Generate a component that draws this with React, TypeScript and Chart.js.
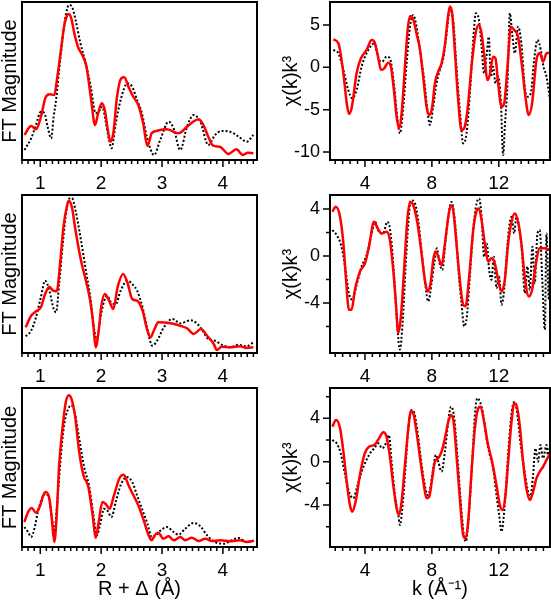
import React, { useEffect, useRef } from "react";
import { Chart, registerables } from "chart.js";

Chart.register(...registerables);
Chart.defaults.font.family = "'Liberation Sans', Arial, sans-serif";
Chart.defaults.color = "#000";

type Pt = [number, number];

// ---------- tick values ----------
const ftMajorTicks = [1, 2, 3, 4];
const ftMinorStep = 0.1;
const kMajorTicks = [4, 8, 12];
const kMinorStep = 4 / 9;
const chiTicksTop = [-10, -5, 0, 5];
const chiMinorTop: number[] = [];
const chiTicksMid = [-4, 0, 4];
const chiMinorMid = [-6, -2, 2];
const chiTicksBot = [-4, 0, 4];
const chiMinorBot = [-6, -2, 2, 6];

// ---------- FT magnitude (arbitrary units) : [R, |FT|] ----------
const ftFitTop: Pt[] = [[0.74,25],[0.85,34],[0.93,30.7],[1.01,43],[1.09,63],[1.16,65.7],[1.23,65],[1.28,83],[1.34,110],[1.39,133],[1.43,143],[1.47,146],[1.51,141.7],[1.56,126.7],[1.62,113],[1.69,105],[1.76,93],[1.83,63],[1.9,35],[1.95,46.7],[2.01,56.7],[2.06,50],[2.11,30],[2.15,18.3],[2.2,26.7],[2.26,63],[2.33,81.7],[2.38,82.7],[2.45,73],[2.53,63],[2.61,55],[2.69,36.7],[2.76,14],[2.83,26.7],[2.92,29.3],[3.08,30.7],[3.19,28.3],[3.27,26.7],[3.41,33.3],[3.49,37.3],[3.6,40.7],[3.68,35],[3.76,23.3],[3.84,14.3],[3.95,13.3],[4.09,6],[4.22,10.7],[4.33,5],[4.41,7.3],[4.5,6.7]];
const ftExpTop: Pt[] = [[0.74,10],[0.85,21.7],[0.93,35],[1.01,48.3],[1.07,46.7],[1.12,33.3],[1.18,21.7],[1.22,43.3],[1.26,60],[1.31,90],[1.37,123.3],[1.42,145],[1.47,155],[1.52,153.3],[1.58,140],[1.66,116.7],[1.74,98.3],[1.83,73.3],[1.91,46.7],[1.96,48.3],[2.02,53.3],[2.07,40],[2.13,20],[2.17,11.7],[2.24,36.7],[2.32,60],[2.43,76.7],[2.51,73.3],[2.59,60],[2.67,46.7],[2.75,23.3],[2.87,5],[2.97,20],[3.11,38.3],[3.19,31.7],[3.3,10],[3.41,33.3],[3.52,45],[3.63,38.3],[3.76,15],[3.87,25],[3.98,29],[4.12,28.3],[4.26,23.3],[4.39,18.3],[4.5,25]];

const ftFitMid: Pt[] = [[0.76,25.7],[0.85,37.3],[0.93,41.7],[1.01,45.7],[1.08,59],[1.15,66.3],[1.21,62.3],[1.27,61.7],[1.33,92.3],[1.38,125.7],[1.44,147.3],[1.47,152.3],[1.52,145.7],[1.58,122.3],[1.67,92.3],[1.75,72.3],[1.82,52.3],[1.87,29],[1.91,5.7],[1.96,22.3],[2.0,45.7],[2.06,59],[2.13,52.3],[2.2,44],[2.27,65.7],[2.36,79],[2.43,70.7],[2.51,54],[2.59,52.3],[2.68,42.3],[2.76,22.3],[2.81,15.7],[2.87,23],[2.94,30.7],[3.14,29.7],[3.3,27.3],[3.41,24.7],[3.52,19],[3.64,24],[3.74,17.3],[3.85,9],[3.9,3],[3.98,6.3],[4.12,5.7],[4.28,6.7],[4.39,5],[4.5,5.7]];
const ftExpMid: Pt[] = [[0.76,16.7],[0.85,22.3],[0.93,35.7],[1.01,55.7],[1.08,72.3],[1.15,62.3],[1.22,44],[1.26,40.7],[1.31,69],[1.37,109],[1.42,139],[1.47,154],[1.52,155],[1.58,142.3],[1.67,112.3],[1.75,82.3],[1.83,52.3],[1.88,25.7],[1.93,13],[1.98,32.3],[2.05,52.3],[2.1,57.3],[2.16,50.7],[2.24,49],[2.32,62.3],[2.43,72.3],[2.51,69],[2.59,62.3],[2.68,45.7],[2.76,24],[2.84,7.3],[2.92,12.3],[3.03,25.7],[3.17,34],[3.3,29.7],[3.47,32.7],[3.57,29.7],[3.65,24],[3.76,14],[3.87,12.3],[3.98,8.3],[4.12,5.7],[4.25,8.3],[4.39,6.7],[4.5,10.7]];

const ftFitBot: Pt[] = [[0.74,25],[0.8,35],[0.86,39],[0.93,34.3],[1.0,41.7],[1.05,51.7],[1.09,55],[1.15,48.3],[1.19,28.3],[1.23,5],[1.27,31.7],[1.31,81.7],[1.37,121.7],[1.42,145],[1.47,151.7],[1.52,146.7],[1.57,131.7],[1.64,95],[1.71,71.7],[1.79,60],[1.86,31.7],[1.91,9],[1.96,25],[2.02,45],[2.07,43.3],[2.14,38.3],[2.21,51.7],[2.31,70],[2.37,72.3],[2.45,61.7],[2.53,51.7],[2.61,41.7],[2.69,28.3],[2.78,11.7],[2.83,6.7],[2.88,11.7],[2.94,14.3],[3.02,8.3],[3.11,10.7],[3.19,6.7],[3.3,10],[3.38,6.7],[3.49,9.3],[3.6,6],[3.71,8.3],[3.82,6],[3.96,6.7],[4.12,5.7],[4.28,6.7],[4.39,5],[4.51,6.3]];
const ftExpBot: Pt[] = [[0.74,20],[0.8,15],[0.85,10],[0.91,20],[0.96,35],[1.04,50],[1.09,53.3],[1.15,46.7],[1.2,25],[1.23,15],[1.27,38.3],[1.33,85],[1.39,121.7],[1.45,136.7],[1.51,141.7],[1.57,133.3],[1.64,108.3],[1.72,80],[1.8,61.7],[1.87,33.3],[1.93,11.7],[1.98,21.7],[2.05,38.3],[2.1,36.7],[2.17,30],[2.24,45],[2.32,61.7],[2.42,70],[2.51,65],[2.59,51.7],[2.67,38.3],[2.76,23.3],[2.83,10],[2.9,11.7],[2.98,16.7],[3.08,20],[3.19,15],[3.27,12.3],[3.38,18.3],[3.52,24],[3.63,20.7],[3.74,11.7],[3.87,5],[4.01,3.3],[4.15,6.7],[4.26,9],[4.39,5],[4.5,6.3]];

// ---------- chi(k)k^3 : [k, value] ----------
const chiFitTop: Pt[] = [[2.11,3.3],[2.41,2.83],[2.71,-0.7],[2.91,-4.25],[3.04,-5.5],[3.2,-4.84],[3.5,-0.7],[3.76,1.06],[4.1,2.05],[4.4,3.23],[4.56,3.03],[4.76,1.46],[4.96,-0.3],[5.15,-0.12],[5.39,0.55],[5.55,0.08],[5.73,-2.68],[5.89,-5.83],[6.03,-7.2],[6.19,-5.43],[6.39,0.08],[6.55,4.4],[6.69,6.06],[6.89,5.6],[7.08,4.0],[7.28,2.24],[7.48,-1.1],[7.68,-4.65],[7.84,-5.63],[8.02,-4.65],[8.18,-1.89],[8.38,-0.5],[8.58,0.47],[8.78,2.64],[8.94,5.6],[9.07,7.17],[9.21,6.38],[9.37,2.05],[9.57,-3.86],[9.77,-7.4],[9.93,-7.2],[10.13,-5.04],[10.37,0.08],[10.61,4.0],[10.81,5.0],[10.97,4.0],[11.16,0.87],[11.32,-1.5],[11.46,-0.9],[11.66,1.26],[11.8,1.06],[11.96,-1.89],[12.16,-4.65],[12.32,-4.25],[12.52,0.08],[12.72,4.8],[12.92,4.4],[13.15,3.6],[13.39,0.08],[13.59,-3.46],[13.79,-5.63],[13.99,-4.25],[14.25,0.87],[14.45,1.65],[14.65,0.67],[14.85,1.65],[15.06,1.73]];
const chiExpTop: Pt[] = [[2.11,2.05],[2.41,1.65],[2.71,-0.3],[3.0,-2.68],[3.24,-3.66],[3.5,-2.68],[3.8,0.08],[4.2,2.05],[4.56,2.83],[4.8,1.06],[5.03,0.67],[5.29,1.26],[5.49,1.06],[5.73,-1.89],[5.95,-6.22],[6.09,-7.8],[6.29,-4.65],[6.49,0.47],[6.69,4.8],[6.89,6.18],[7.08,4.8],[7.28,2.05],[7.54,-1.5],[7.78,-5.83],[7.88,-6.8],[8.08,-4.65],[8.28,-1.89],[8.48,-0.3],[8.68,1.06],[8.88,4.0],[9.07,6.77],[9.27,5.6],[9.47,0.08],[9.67,-5.04],[9.87,-8.98],[10.07,-7.8],[10.27,-3.07],[10.47,3.23],[10.63,6.38],[10.81,5.6],[10.97,2.44],[11.12,-0.7],[11.26,1.26],[11.4,3.6],[11.52,-1.1],[11.66,0.08],[11.8,-1.89],[11.96,-1.1],[12.12,-3.86],[12.26,-10.35],[12.36,-7.0],[12.52,-1.89],[12.66,6.38],[12.8,4.0],[12.96,1.65],[13.15,4.8],[13.35,2.83],[13.55,-2.28],[13.71,-3.46],[13.91,-3.07],[14.11,0.87],[14.31,3.23],[14.51,2.05],[14.67,0.08],[14.85,-1.1],[15.06,-3.86]];

const chiFitMid: Pt[] = [[2.05,3.76],[2.25,4.18],[2.51,3.33],[2.71,1.07],[2.87,-2.03],[3.04,-4.58],[3.2,-4.58],[3.4,-2.88],[3.7,-1.33],[4.0,-0.62],[4.24,0.79],[4.54,2.91],[4.76,2.34],[4.99,1.92],[5.29,2.06],[5.49,1.36],[5.69,-1.19],[5.85,-4.01],[5.99,-6.55],[6.15,-5.14],[6.35,-0.9],[6.53,3.05],[6.69,4.6],[6.89,4.32],[7.14,2.77],[7.38,0.23],[7.58,-2.03],[7.74,-3.02],[7.92,-2.32],[8.08,-0.34],[8.22,0.37],[8.38,-0.06],[8.58,-0.76],[8.78,1.07],[8.98,3.33],[9.14,4.32],[9.27,3.9],[9.47,1.07],[9.67,-2.03],[9.87,-4.15],[10.01,-4.29],[10.21,-2.03],[10.47,2.2],[10.67,3.84],[10.81,4.04],[10.97,3.05],[11.16,1.07],[11.36,-0.48],[11.56,-0.2],[11.76,-0.62],[11.96,-2.03],[12.16,-3.02],[12.36,-2.03],[12.56,1.07],[12.76,2.91],[12.96,3.62],[13.15,2.91],[13.35,1.07],[13.55,-1.75],[13.79,-3.45],[13.99,-2.88],[14.19,-0.9],[14.45,0.65],[14.75,0.65],[15.06,0.5]];
const chiExpMid: Pt[] = [[2.05,2.2],[2.31,1.78],[2.57,0.93],[2.81,-0.9],[3.04,-3.16],[3.24,-3.73],[3.5,-2.46],[3.8,-0.9],[4.1,0.08],[4.4,1.92],[4.6,2.91],[4.84,2.06],[5.09,1.92],[5.33,2.91],[5.49,2.34],[5.69,-0.62],[5.89,-5.14],[6.09,-7.97],[6.25,-5.71],[6.43,-0.9],[6.59,2.77],[6.75,4.75],[6.95,4.6],[7.18,3.05],[7.42,-0.06],[7.62,-2.6],[7.78,-3.87],[7.98,-2.32],[8.14,-0.62],[8.3,0.65],[8.46,-0.62],[8.62,-1.19],[8.82,1.36],[9.01,3.62],[9.17,4.6],[9.37,3.05],[9.57,-0.9],[9.77,-4.01],[9.93,-5.99],[10.09,-5.14],[10.27,-1.75],[10.47,2.2],[10.67,4.46],[10.83,4.89],[10.97,3.33],[11.12,-0.06],[11.28,1.07],[11.42,-1.19],[11.56,-2.03],[11.7,-0.06],[11.86,-2.74],[12.02,-1.75],[12.16,-4.15],[12.32,-2.88],[12.46,-0.06],[12.62,2.49],[12.76,3.33],[12.92,1.92],[13.05,3.33],[13.21,2.49],[13.39,0.23],[13.55,-3.16],[13.71,-0.9],[13.85,-2.88],[14.01,0.79],[14.15,-2.32],[14.31,1.92],[14.45,2.2],[14.59,-1.75],[14.75,-6.27],[14.85,1.92],[14.99,-3.73],[15.06,-0.06]];

const chiFitBot: Pt[] = [[2.05,3.23],[2.27,3.85],[2.51,3.08],[2.71,0.92],[2.91,-1.85],[3.1,-4.0],[3.24,-4.62],[3.44,-3.69],[3.7,-1.23],[3.96,0.62],[4.24,1.38],[4.56,1.54],[4.84,2.15],[5.09,2.71],[5.29,2.31],[5.49,0.46],[5.69,-2.15],[5.89,-4.31],[6.03,-4.92],[6.19,-3.69],[6.39,-0.31],[6.59,3.08],[6.75,4.68],[6.89,4.46],[7.08,2.77],[7.32,0],[7.52,-2.15],[7.68,-3.38],[7.84,-3.23],[8.02,-1.54],[8.18,0],[8.38,0.31],[8.58,0.92],[8.78,2.15],[8.98,3.69],[9.14,4.31],[9.31,3.54],[9.47,0.62],[9.67,-3.38],[9.87,-6.77],[10.01,-7.08],[10.17,-5.54],[10.37,-0.92],[10.57,3.08],[10.77,4.92],[10.91,5.08],[11.12,3.69],[11.36,1.54],[11.6,0],[11.86,-2.15],[12.06,-4.0],[12.22,-4.46],[12.4,-3.08],[12.56,0],[12.76,3.69],[12.92,5.38],[13.05,5.23],[13.25,3.38],[13.45,0],[13.65,-2.46],[13.85,-3.54],[14.05,-2.77],[14.25,-1.54],[14.45,-0.92],[14.65,-0.46],[14.85,0.15],[15.06,0.77]];
const chiExpBot: Pt[] = [[2.05,2.0],[2.31,1.69],[2.55,0.77],[2.81,-1.23],[3.04,-2.77],[3.3,-3.38],[3.56,-2.15],[3.8,-0.92],[4.04,0],[4.3,0.77],[4.56,1.23],[4.8,1.69],[5.03,1.23],[5.25,1.69],[5.43,2.46],[5.59,0],[5.79,-3.08],[5.99,-4.92],[6.09,-5.85],[6.25,-4.0],[6.43,-0.31],[6.59,3.08],[6.79,4.77],[6.95,4.46],[7.14,2.77],[7.34,0.31],[7.54,-1.85],[7.74,-3.08],[7.9,-2.46],[8.08,-0.62],[8.24,0.62],[8.38,0],[8.58,-0.92],[8.78,0.92],[8.98,3.69],[9.14,5.08],[9.31,4.31],[9.51,0.92],[9.71,-3.38],[9.91,-6.77],[10.03,-7.38],[10.21,-4.92],[10.41,0],[10.57,4.31],[10.71,5.85],[10.87,5.54],[11.07,4.31],[11.26,2.15],[11.46,0.62],[11.66,-0.62],[11.86,-3.08],[12.02,-4.92],[12.16,-6.46],[12.32,-4.62],[12.5,-0.62],[12.66,2.77],[12.8,4.92],[12.96,5.54],[13.11,4.31],[13.31,1.54],[13.51,-0.62],[13.71,-2.46],[13.87,-3.38],[14.05,-1.23],[14.19,1.23],[14.35,0],[14.49,1.54],[14.65,0.31],[14.85,1.54],[14.93,0.62],[15.06,1.38]];

// ---------- panel layout ----------
type Panel = {
  left: number; top: number; w: number; h: number;
  padTop: number; padRight: number; yW: number; xH: number;
  xMin: number; xMax: number; yMin: number; yMax: number;
  xMajor: number[]; xStep: number; xAnchor: number;
  yMajor: number[]; yMinor: number[]; yLabels: boolean;
  yTitle: string; yTitlePad: number; xTitle: string;
  fit: Pt[]; exp: Pt[];
};

const L = { left: 0, w: 275, padRight: 18, yW: 22, xMin: 0.7, xMax: 4.56, xMajor: ftMajorTicks, xStep: ftMinorStep, xAnchor: 1, yMajor: [] as number[], yMinor: [] as number[], yLabels: false, yTitle: "FT Magnitude", yTitlePad: 0 };
const R = { left: 275, w: 276, padRight: 1, yW: 55, xMin: 1.91, xMax: 15.06, xMajor: kMajorTicks, xStep: kMinorStep, xAnchor: 4, yLabels: true, yTitle: "\u03c7(k)k\u00b3", yTitlePad: 6 };
const row1 = { top: 0, h: 192, padTop: 2, xH: 32 };
const row2 = { top: 192, h: 193, padTop: 3, xH: 32 };
const row3 = { top: 385, h: 215, padTop: 3, xH: 53 };

const panels: Panel[] = [
  { ...L, ...row1, yMin: 0, yMax: 158, xTitle: "", fit: ftFitTop, exp: ftExpTop },
  { ...R, ...row1, yMin: -10.94, yMax: 7.71, yMajor: chiTicksTop, yMinor: chiMinorTop, xTitle: "", fit: chiFitTop, exp: chiExpTop },
  { ...L, ...row2, yMin: 0, yMax: 158, xTitle: "", fit: ftFitMid, exp: ftExpMid },
  { ...R, ...row2, yMin: -8.26, yMax: 5.19, yMajor: chiTicksMid, yMinor: chiMinorMid, xTitle: "", fit: chiFitMid, exp: chiExpMid },
  { ...L, ...row3, yMin: 0, yMax: 159, xTitle: "R + \u0394 (\u00c5)", fit: ftFitBot, exp: ftExpBot },
  { ...R, ...row3, yMin: -7.88, yMax: 6.8, yMajor: chiTicksBot, yMinor: chiMinorBot, xTitle: "k (\u00c5\u207b\u00b9)", fit: chiFitBot, exp: chiExpBot },
];

const frameTicks = {
  id: "frameTicks",
  afterDraw(chart: any, _a: any, o: any) {
    const { ctx, chartArea: a, scales } = chart;
    const xs = scales.x, ys = scales.y;
    ctx.save();
    ctx.strokeStyle = "#000";
    ctx.lineWidth = 1.5;
    ctx.beginPath();
    const xMinor: number[] = [];
    const n0 = Math.ceil((xs.min - o.xAnchor) / o.xStep - 1e-6);
    const n1 = Math.floor((xs.max - o.xAnchor) / o.xStep + 1e-6);
    for (let n = n0; n <= n1; n++) xMinor.push(o.xAnchor + n * o.xStep);
    for (const v of xMinor) {
      const isMajor = o.xMajor.some((m: number) => Math.abs(m - v) < 1e-6);
      const p = xs.getPixelForValue(v);
      ctx.moveTo(p, a.bottom);
      ctx.lineTo(p, a.bottom + (isMajor ? 7 : 4));
    }
    for (const v of o.yMajor) {
      const p = ys.getPixelForValue(v);
      ctx.moveTo(a.left, p);
      ctx.lineTo(a.left - 7, p);
    }
    for (const v of o.yMinor) {
      const p = ys.getPixelForValue(v);
      ctx.moveTo(a.left, p);
      ctx.lineTo(a.left - 4, p);
    }
    ctx.stroke();
    ctx.lineWidth = 2;
    ctx.strokeRect(a.left, a.top, a.right - a.left, a.bottom - a.top);
    ctx.restore();
  },
};

function makeChart(canvas: HTMLCanvasElement, p: Panel) {
  return new Chart(canvas, {
    type: "line",
    data: {
      datasets: [
        {
          data: p.fit.map(([x, y]) => ({ x, y })),
          borderColor: "#ff0000",
          borderWidth: 2.5,
          pointRadius: 0,
          fill: false,
          cubicInterpolationMode: "monotone",
        },
        {
          data: p.exp.map(([x, y]) => ({ x, y })),
          borderColor: "#000000",
          borderWidth: 2,
          borderDash: [2, 2],
          pointRadius: 0,
          fill: false,
          cubicInterpolationMode: "monotone",
        },
      ],
    },
    options: {
      responsive: false,
      animation: false,
      events: [],
      layout: { padding: { top: p.padTop, right: p.padRight, left: 0, bottom: 0 } },
      plugins: {
        legend: { display: false },
        tooltip: { enabled: false },
        frameTicks: { xMajor: p.xMajor, xStep: p.xStep, xAnchor: p.xAnchor, yMajor: p.yMajor, yMinor: p.yMinor },
      } as any,
      scales: {
        x: {
          type: "linear",
          min: p.xMin,
          max: p.xMax,
          grid: { display: false, drawTicks: false },
          border: { display: false },
          ticks: { font: { size: 19 }, padding: 12, color: "#000", callback: (v: any) => String(v) },
          afterBuildTicks: (s: any) => { s.ticks = p.xMajor.map((v) => ({ value: v })); },
          afterFit: (s: any) => { s.height = p.xH; s.paddingLeft = 0; s.paddingRight = 0; },
          title: { display: !!p.xTitle, text: p.xTitle, color: "#000", font: { size: 20, lineHeight: 1 }, padding: { top: 0, bottom: 1 } },
        },
        y: {
          type: "linear",
          min: p.yMin,
          max: p.yMax,
          grid: { display: false, drawTicks: false },
          border: { display: false },
          ticks: { display: p.yLabels, font: { size: 18 }, padding: 10, color: "#000", callback: (v: any) => String(v) },
          afterBuildTicks: (s: any) => { s.ticks = p.yMajor.map((v) => ({ value: v })); },
          afterFit: (s: any) => { s.width = p.yW; s.paddingTop = 0; s.paddingBottom = 0; },
          title: { display: true, text: p.yTitle, color: "#000", font: { size: 20, lineHeight: 1 }, padding: { top: p.yTitlePad, bottom: 0 } },
        },
      },
    } as any,
    plugins: [frameTicks],
  });
}

export default function App() {
  const refs = useRef<(HTMLCanvasElement | null)[]>([]);
  useEffect(() => {
    const charts = panels.map((p, i) => makeChart(refs.current[i] as HTMLCanvasElement, p));
    return () => charts.forEach((c) => c.destroy());
  }, []);
  return (
    <div style={{ position: "absolute", left: 0, top: 0, width: 551, height: 600, background: "#fff" }}>
      {panels.map((p, i) => (
        <canvas
          key={i}
          ref={(el) => { refs.current[i] = el; }}
          width={p.w}
          height={p.h}
          style={{ position: "absolute", left: p.left, top: p.top, width: p.w, height: p.h }}
        />
      ))}
    </div>
  );
}
